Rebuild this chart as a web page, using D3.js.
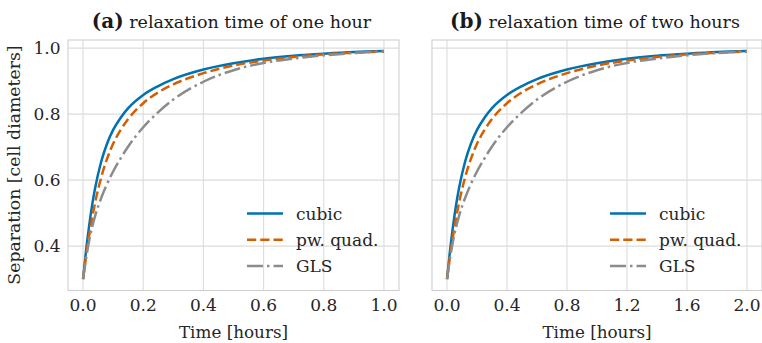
<!doctype html>
<html lang="en">
<head>
  <meta charset="utf-8">
  <title>Separation vs time</title>
</head>
<body style="overflow: hidden; margin: 0; background: #fff;">
  <script src="https://cdnjs.cloudflare.com/ajax/libs/d3/7.8.5/d3.min.js"></script>
  <script type="text/javascript">

    // time samples (hours) for each panel
    var timeOneHour = [0, 0.01, 0.02, 0.03, 0.04, 0.06, 0.08, 0.1, 0.125, 0.15, 0.2, 0.25, 0.3, 0.4, 0.5, 0.6, 0.7, 0.8, 0.9, 1.0];
    var timeTwoHours = [0, 0.02, 0.04, 0.06, 0.08, 0.12, 0.16, 0.2, 0.25, 0.3, 0.4, 0.5, 0.6, 0.8, 1.0, 1.2, 1.4, 1.6, 1.8, 2.0];

    // separation (same shape in both panels)
    var cubic  = [0.30, 0.386, 0.460, 0.523, 0.575, 0.655, 0.711, 0.752, 0.789, 0.818, 0.858, 0.885, 0.906, 0.935, 0.954, 0.968, 0.977, 0.983, 0.988, 0.991];
    var pwQuad = [0.30, 0.369, 0.430, 0.484, 0.531, 0.607, 0.665, 0.710, 0.752, 0.785, 0.833, 0.866, 0.890, 0.924, 0.947, 0.962, 0.973, 0.981, 0.986, 0.990];
    var gls    = [0.30, 0.363, 0.415, 0.457, 0.491, 0.545, 0.589, 0.626, 0.666, 0.702, 0.760, 0.806, 0.844, 0.898, 0.933, 0.955, 0.968, 0.978, 0.985, 0.990];

    var xTicksA = [0, 0.2, 0.4, 0.6, 0.8, 1.0];
    var xTicksB = [0, 0.4, 0.8, 1.2, 1.6, 2.0];
    var yTicks = [0.4, 0.6, 0.8, 1.0];

    var seriesNames = ["cubic", "pw. quad.", "GLS"];
    var panelLetters = ["(a)", "(b)"];
    var panelTitles = ["relaxation time of one hour", "relaxation time of two hours"];

    var config = {
      "width": 762,
      "height": 343,
      "top": 40,
      "bottom": 290.5,
      "font": "'DejaVu Serif', serif",
      "grid": "#dcdcdc",
      "spine": "#cfcfcf",
      "lw": 2.5
    };

    var styles = [
      {color: "#0072B2", dash: null},
      {color: "#D55E00", dash: "9.25,4"},
      {color: "#8c8c8c", dash: "16,4,2.5,4"}
    ];

    var panels = [
      {left: 68, right: 399, time: timeOneHour, xmax: 1.0, ticks: xTicksA, yLabels: true},
      {left: 432, right: 762, time: timeTwoHours, xmax: 2.0, ticks: xTicksB, yLabels: false}
    ];

    let svg = d3.select("body").append("svg")
      .attr("width", config.width)
      .attr("height", config.height)
      .style("font-family", config.font);

    let yScale = d3.scaleLinear()
      .domain([0.3 - 0.0345, 0.99 + 0.0345])
      .range([config.bottom, config.top]);

    panels.forEach((p, pi) => {
      let pad = p.xmax * 0.05;
      let xScale = d3.scaleLinear()
        .domain([-pad, p.xmax + pad])
        .range([p.left, p.right]);

      let g = svg.append("g");

      // grid
      g.selectAll(".vgrid").data(p.ticks).enter().append("line")
        .attr("x1", d => xScale(d)).attr("x2", d => xScale(d))
        .attr("y1", config.top).attr("y2", config.bottom)
        .attr("stroke", config.grid).attr("stroke-width", 1.1);
      g.selectAll(".hgrid").data(yTicks).enter().append("line")
        .attr("x1", p.left).attr("x2", p.right)
        .attr("y1", d => yScale(d)).attr("y2", d => yScale(d))
        .attr("stroke", config.grid).attr("stroke-width", 1.1);

      // spines
      g.append("rect")
        .attr("x", p.left).attr("y", config.top)
        .attr("width", p.right - p.left).attr("height", config.bottom - config.top)
        .attr("fill", "none").attr("stroke", config.spine).attr("stroke-width", 1.1);

      // x tick labels
      g.selectAll(".xt").data(p.ticks).enter().append("text")
        .attr("x", d => xScale(d)).attr("y", 310.5)
        .attr("text-anchor", "middle")
        .attr("font-size", 17).attr("fill", "#262626")
        .text(d => d.toFixed(1));

      if (p.yLabels) {
        g.selectAll(".yt").data(yTicks).enter().append("text")
          .attr("x", 60.5).attr("y", d => yScale(d) + 6)
          .attr("text-anchor", "end")
          .attr("font-size", 17).attr("fill", "#262626")
          .text(d => d.toFixed(1));
      }

      // x label
      g.append("text")
        .attr("x", (p.left + p.right) / 2).attr("y", 337.5)
        .attr("text-anchor", "middle")
        .attr("font-size", 16.8).attr("fill", "#262626")
        .text("Time [hours]");

      // title
      let title = g.append("text")
        .attr("x", (p.left + p.right) / 2 - 2).attr("y", 28)
        .attr("text-anchor", "middle").attr("fill", "#1a1a1a");
      title.append("tspan").attr("font-weight", "bold").attr("font-size", 20).text(panelLetters[pi]);
      title.append("tspan").attr("font-size", 17.5).text(" " + panelTitles[pi]);

      // curves
      let clipId = "clip" + pi;
      svg.append("clipPath").attr("id", clipId).append("rect")
        .attr("x", p.left).attr("y", config.top)
        .attr("width", p.right - p.left).attr("height", config.bottom - config.top);

      [cubic, pwQuad, gls].forEach((vals, si) => {
        let pts = p.time.map((t, i) => [t, vals[i]]);
        let line = d3.line()
          .x(d => xScale(d[0]))
          .y(d => yScale(d[1]))
          .curve(d3.curveMonotoneX);
        g.append("path")
          .attr("d", line(pts))
          .attr("fill", "none")
          .attr("stroke", styles[si].color)
          .attr("stroke-width", config.lw)
          .attr("stroke-dasharray", styles[si].dash)
          .attr("clip-path", "url(#" + clipId + ")");
      });

      // legend
      let lx = p.right - 152, ly = 213.5;
      seriesNames.forEach((name, si) => {
        let y = ly + si * 26.3;
        g.append("line")
          .attr("x1", lx).attr("x2", lx + 36)
          .attr("y1", y).attr("y2", y)
          .attr("stroke", styles[si].color)
          .attr("stroke-width", config.lw)
          .attr("stroke-dasharray", styles[si].dash);
        g.append("text")
          .attr("x", lx + 49).attr("y", y + 6)
          .attr("font-size", 17).attr("fill", "#262626")
          .text(name);
      });
    });

    // y axis label
    svg.append("text")
      .attr("transform", "translate(20,165) rotate(-90)")
      .attr("text-anchor", "middle")
      .attr("font-size", 17.3).attr("fill", "#262626")
      .text("Separation [cell diameters]");

  </script>
</body>
</html>
